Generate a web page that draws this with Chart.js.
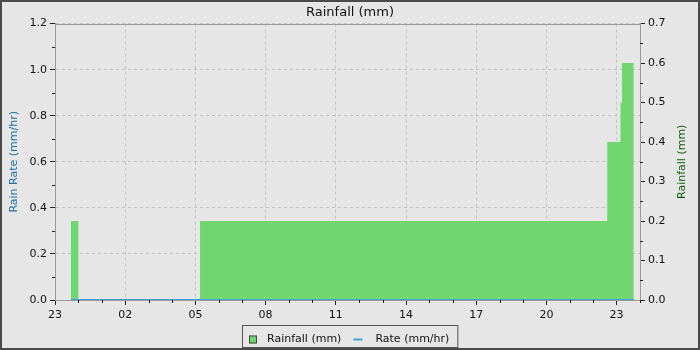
<!DOCTYPE html>
<html><head><meta charset="utf-8">
<script src="https://cdn.jsdelivr.net/npm/chart.js@4"></script>
<style>html,body{margin:0;padding:0;background:#e6e6e6}#wrap{width:700px;height:350px;position:relative}</style>
</head><body><div id="wrap"><canvas id="c" width="700" height="350"></canvas></div>
<script>
// ---- data ----
const startHour = 23;                 // x axis starts at day 0, 23:00
const spanHours = 25;
const xTickLabels = ['23','02','05','08','11','14','17','20','23'];
const leftTickLabels = ['0.0','0.2','0.4','0.6','0.8','1.0','1.2'];
const rightTickLabels = ['0.0','0.1','0.2','0.3','0.4','0.5','0.6','0.7'];
// cumulative rainfall (mm), value holds until next time
const rainTimes  = ['0 23:41','1 00:00','1 05:12','1 22:36','1 23:10','1 23:14','1 23:44'];
const rainValues = [0.2, 0.0, 0.2, 0.4, 0.5, 0.6, 0.6];
// rain rate (mm/hr)
const rateTimes  = ['0 23:41','1 23:44'];
const rateValues = [0, 0];
const seriesNames = ['Rainfall (mm)', 'Rate (mm/hr)'];
const rightTitle = 'Rainfall (mm)';

function toHours(s){ const [d,hm]=s.split(' '); const [h,m]=hm.split(':').map(Number); return (+d)*24+h+m/60-startHour; }
const rainPts = rainTimes.map((t,i)=>({x:toHours(t), y:rainValues[i]}));
const ratePts = rateTimes.map((t,i)=>({x:toHours(t), y:rateValues[i]}));

const GREEN = '#70d670', BLUE = '#42a0d8';
const FONT = 'DejaVu Sans';

const framePlugin = {
  id:'frame',
  beforeDraw(chart){
    const ctx=chart.ctx; ctx.save(); ctx.fillStyle='#e6e6e6'; ctx.fillRect(0,0,chart.width,chart.height); ctx.restore();
  },
  afterDraw(chart){
    const ctx=chart.ctx, a=chart.chartArea, sx=chart.scales.x, yl=chart.scales.y, yr=chart.scales.y1;
    ctx.save();
    // top border of plot
    ctx.strokeStyle='#9a9a9a'; ctx.lineWidth=1;
    ctx.beginPath(); ctx.moveTo(a.left, Math.round(a.top)+0.5); ctx.lineTo(a.right, Math.round(a.top)+0.5); ctx.stroke();
    // minor ticks
    ctx.strokeStyle='#222'; ctx.beginPath();
    for(let h=0; h<=spanHours; h++){ if(h%3===0) continue; const px=Math.round(sx.getPixelForValue(h))+0.5; ctx.moveTo(px,a.bottom); ctx.lineTo(px,a.bottom+3); }
    for(let v=1; v<12; v+=2){ const py=Math.round(yl.getPixelForValue(v/10))+0.5; ctx.moveTo(a.left-3,py); ctx.lineTo(a.left,py); }
    for(let v=1; v<14; v+=2){ const py=Math.round(yr.getPixelForValue(v/20))+0.5; ctx.moveTo(a.right,py); ctx.lineTo(a.right+3,py); }
    ctx.stroke();
    // right axis title, reading bottom-to-top
    ctx.save();
    ctx.font='11px "'+FONT+'"'; ctx.fillStyle='#0b5e0b'; ctx.textAlign='center'; ctx.textBaseline='middle';
    ctx.translate(682, (a.top+a.bottom)/2); ctx.rotate(-Math.PI/2); ctx.fillText(rightTitle, 0, 0);
    ctx.restore();
    // legend
    ctx.font='11px "'+FONT+'"'; ctx.textBaseline='middle';
    const w1=ctx.measureText(seriesNames[0]).width, w2=ctx.measureText(seriesNames[1]).width;
    const total = 7+8+10+w1+12+10+12+w2+8;
    const lx = Math.round(chart.width/2 - total/2)+0.5, ly=325.5, lh=22;
    ctx.strokeStyle='#555'; ctx.lineWidth=1; ctx.strokeRect(lx, ly, total, lh);
    let x = lx+6.5; const cy = ly+lh/2+3;
    ctx.fillStyle=GREEN; ctx.fillRect(x, cy-4, 8, 8); ctx.strokeStyle='#444'; ctx.strokeRect(x+0.5, cy-3.5, 7, 7);
    x += 8+10; ctx.fillStyle='#111'; ctx.fillText(seriesNames[0], x, cy);
    x += w1+12; ctx.strokeStyle=BLUE; ctx.lineWidth=2; ctx.beginPath(); ctx.moveTo(x, cy); ctx.lineTo(x+9, cy); ctx.stroke();
    x += 9+13; ctx.fillStyle='#111'; ctx.fillText(seriesNames[1], x, cy);
    // outer frame
    ctx.strokeStyle='#4a4a4a'; ctx.lineWidth=2; ctx.strokeRect(1,1,chart.width-2,chart.height-2);
    ctx.restore();
  }
};

Chart.defaults.font.family = FONT;
Chart.defaults.font.size = 11;
Chart.defaults.color = '#111';

new Chart(document.getElementById('c'), {
  type:'line',
  data:{ datasets:[
    { label:seriesNames[0], data:rainPts, yAxisID:'y1', stepped:true, fill:'origin', backgroundColor:GREEN, borderColor:'rgba(0,0,0,0)', borderWidth:0, pointRadius:0, order:1 },
    { label:seriesNames[1], data:ratePts, yAxisID:'y', borderColor:BLUE, borderWidth:2, pointRadius:0, fill:false, order:0 }
  ]},
  options:{
    responsive:false, animation:false, events:[],
    layout:{ padding:{left:2, right:2, top:2, bottom:26} },
    plugins:{
      legend:{display:false}, tooltip:{enabled:false},
      title:{display:true, text:'Rainfall (mm)', font:{size:13, weight:'normal'}, color:'#111', padding:{top:3, bottom:3}}
    },
    scales:{
      x:{ type:'linear', min:0, max:spanHours, position:'bottom',
          afterFit(s){ s.height=24; },
          ticks:{ stepSize:3, autoSkip:false, maxRotation:0, padding:4, color:'#111',
                  callback:(v,i)=> xTickLabels[i] },
          grid:{ color:'#c2c2c2', tickColor:'#222', tickLength:5 },
          border:{ color:'#9a9a9a', dash:[3,3] } },
      y:{ position:'left', min:0, max:1.2,
          afterFit(s){ s.width=53; },
          ticks:{ stepSize:0.2, padding:3, color:'#111', callback:(v,i)=> leftTickLabels[i] },
          grid:{ color:'#c2c2c2', tickColor:'#222', tickLength:5 },
          border:{ color:'#9a9a9a', dash:[3,3] },
          title:{ display:true, text:'Rain Rate (mm/hr)', color:'#1d6fa5', font:{size:11}, padding:{top:6, bottom:0} } },
      y1:{ position:'right', min:0, max:0.7,
          afterFit(s){ s.width=58; },
          ticks:{ stepSize:0.1, padding:3, color:'#111', callback:(v,i)=> rightTickLabels[i] },
          grid:{ drawOnChartArea:false, tickColor:'#222', tickLength:5 },
          border:{ color:'#9a9a9a' } }
    }
  },
  plugins:[framePlugin]
});
</script></body></html>
